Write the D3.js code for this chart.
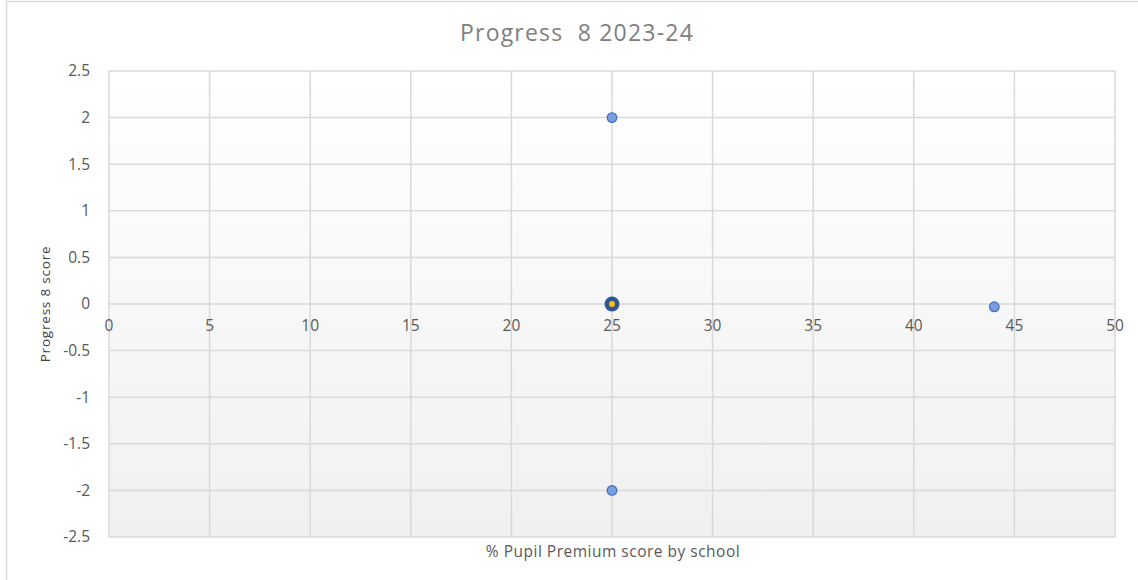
<!DOCTYPE html>
<html>
<head>
<meta charset="utf-8">
<script src="https://cdn.jsdelivr.net/npm/d3@7"></script>
<style>
  body { margin: 0; background: #fff; }
  text { font-family: "Open Sans", sans-serif; }
</style>
</head>
<body>
<div id="chart"></div>
<script>
// school points: % pupil premium vs progress 8
var schoolPP = [25, 25, 44];
var schoolP8 = [2, -2, -0.03];
// highlighted school
var highlightPP = [25];
var highlightP8 = [0];

var xTicks = [0, 5, 10, 15, 20, 25, 30, 35, 40, 45, 50];
var yTicks = [2.5, 2, 1.5, 1, 0.5, 0, -0.5, -1, -1.5, -2, -2.5];

var W = 1138, H = 580;
var margin = {top: 71, right: 23, bottom: 43, left: 109},
    width = W - margin.left - margin.right,
    height = H - margin.top - margin.bottom;

var svg = d3.select("#chart")
    .append("svg")
    .attr("width", W)
    .attr("height", H);

// outer chart frame
svg.append("rect")
    .attr("x", 6.5).attr("y", 1.5)
    .attr("width", W + 10).attr("height", H + 10)
    .attr("fill", "#fff")
    .attr("stroke", "#d9d9d9")
    .attr("stroke-width", 1.5);

var defs = svg.append("defs");
var grad = defs.append("linearGradient")
    .attr("id", "bg")
    .attr("x1", "0%").attr("y1", "0%")
    .attr("x2", "0%").attr("y2", "100%");
grad.append("stop").attr("offset", "0%").attr("stop-color", "#ffffff");
grad.append("stop").attr("offset", "100%").attr("stop-color", "#f0f0f0");

var g = svg.append("g")
    .attr("transform", "translate(" + margin.left + "," + margin.top + ")");

var x = d3.scaleLinear().domain([0, 50]).range([0, width]);
var y = d3.scaleLinear().domain([-2.5, 2.5]).range([height, 0]);

g.append("rect")
    .attr("width", width).attr("height", height)
    .attr("fill", "url(#bg)");

// gridlines
g.append("g")
    .selectAll("line")
    .data(xTicks)
    .enter().append("line")
    .attr("x1", d => x(d)).attr("x2", d => x(d))
    .attr("y1", 0).attr("y2", height)
    .attr("stroke", "#d9d9d9").attr("stroke-width", 1.5);

g.append("g")
    .selectAll("line")
    .data(yTicks)
    .enter().append("line")
    .attr("x1", 0).attr("x2", width)
    .attr("y1", d => y(d)).attr("y2", d => y(d))
    .attr("stroke", "#d9d9d9").attr("stroke-width", 1.5);

// y tick labels
g.append("g")
    .selectAll("text")
    .data(yTicks)
    .enter().append("text")
    .attr("x", -19)
    .attr("y", d => y(d))
    .attr("dy", "0.35em")
    .attr("text-anchor", "end")
    .attr("font-size", 15.5)
    .attr("fill", "#595959")
    .text(d => d);

// x tick labels sit under the zero line
g.append("g")
    .selectAll("text")
    .data(xTicks)
    .enter().append("text")
    .attr("x", d => x(d))
    .attr("y", y(0) + 27)
    .attr("text-anchor", "middle")
    .attr("font-size", 15.5)
    .attr("fill", "#595959")
    .text(d => d);

// points
g.append("g")
    .selectAll("circle")
    .data(schoolPP)
    .enter().append("circle")
    .attr("cx", d => x(d))
    .attr("cy", (d, i) => y(schoolP8[i]))
    .attr("r", 4.8)
    .attr("fill", "#7b9ee0")
    .attr("stroke", "#4472c4")
    .attr("stroke-width", 1.3);

g.append("g")
    .selectAll("circle")
    .data(highlightPP)
    .enter().append("circle")
    .attr("cx", d => x(d))
    .attr("cy", (d, i) => y(highlightP8[i]))
    .attr("r", 7.5)
    .attr("fill", "#2f5597");

g.append("g")
    .selectAll("circle")
    .data(highlightPP)
    .enter().append("circle")
    .attr("cx", d => x(d))
    .attr("cy", (d, i) => y(highlightP8[i]))
    .attr("r", 3)
    .attr("fill", "#ffc000");

// titles
svg.append("text")
    .attr("x", 577).attr("y", 41)
    .attr("text-anchor", "middle")
    .attr("font-size", 23)
    .attr("letter-spacing", 1.2)
    .attr("fill", "#808080")
    .style("white-space", "pre")
    .text("Progress  8 2023-24");

svg.append("text")
    .attr("x", 613).attr("y", 557)
    .attr("text-anchor", "middle")
    .attr("font-size", 15.5)
    .attr("letter-spacing", 0.5)
    .attr("fill", "#595959")
    .text("% Pupil Premium score by school");

svg.append("text")
    .attr("transform", "translate(50," + (margin.top + y(0)) + ") rotate(-90)")
    .attr("text-anchor", "middle")
    .attr("font-size", 13.5)
    .attr("letter-spacing", 0.8)
    .attr("fill", "#404040")
    .text("Progress 8 score");
</script>
</body>
</html>
